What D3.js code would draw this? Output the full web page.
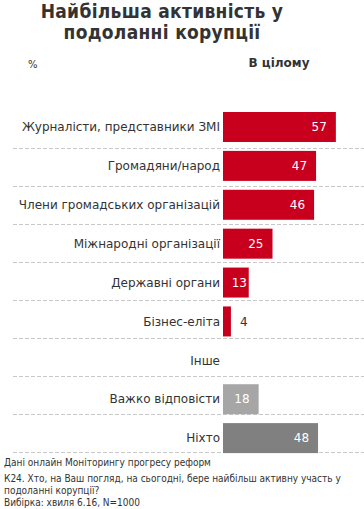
<!DOCTYPE html>
<html>
<head>
<meta charset="utf-8">
<script src="https://cdn.jsdelivr.net/npm/d3@7"></script>
<style>
  html, body { margin: 0; padding: 0; background: #fff; }
  svg { display: block; }
</style>
</head>
<body>
<div id="chart"></div>
<script>
const categories = [
    "Журналісти, представники ЗМІ", "Громадяни/народ", "Члени громадських організацій",
    "Міжнародні організації", "Державні органи", "Бізнес-еліта",
    "Інше", "Важко відповісти", "Ніхто",
];
const values = [57, 47, 46, 25, 13, 4, null, 18, 48];
const barColors = ["#c8001e", "#c8001e", "#c8001e", "#c8001e", "#c8001e", "#c8001e",
    "#c8001e", "#a6a6a6", "#808080"];
const titleLines = ["Найбільша активність у", "подоланні корупції"];
const seriesName = "В цілому";
const footnotes = [
    "Дані онлайн Моніторингу прогресу реформ",
    "К24. Хто, на Ваш погляд, на сьогодні, бере найбільш активну участь у",
    "подоланні корупції?",
    "Вибірка: хвиля 6.16, N=1000",
];

const width = 364;
const height = 509;
const textColor = "#333333";

const svg = d3.select("#chart")
    .append("svg")
    .attr("width", width)
    .attr("height", height);

// title
svg.selectAll(".title")
    .data(titleLines)
    .enter()
    .append("text")
    .attr("class", "title")
    .attr("x", 162)
    .attr("y", (d, i) => 18 + i * 21)
    .attr("text-anchor", "middle")
    .attr("fill", textColor)
    .style("font-family", "'DejaVu Sans Condensed', 'DejaVu Sans', sans-serif")
    .style("font-weight", "bold")
    .style("font-size", "19px")
    .style("letter-spacing", "0.3px")
    .text(d => d);

svg.append("text")
    .attr("x", 28)
    .attr("y", 68)
    .attr("fill", textColor)
    .style("font-family", "'DejaVu Sans', sans-serif")
    .style("font-size", "10px")
    .text("%");

svg.append("text")
    .attr("x", 279)
    .attr("y", 67)
    .attr("text-anchor", "middle")
    .attr("fill", textColor)
    .style("font-family", "'DejaVu Sans', sans-serif")
    .style("font-weight", "bold")
    .style("font-size", "12px")
    .text(seriesName);

// scales
const y = d3.scaleBand()
    .domain(categories)
    .range([108, 458]);

const gridY = d3.scaleBand()
    .domain(categories)
    .range([110, 452]);

const x = d3.scaleLinear()
    .domain([0, 100])
    .range([223, 421]);

// dashed separators
svg.selectAll(".grid")
    .data(categories)
    .enter()
    .append("line")
    .attr("x1", 13)
    .attr("x2", width)
    .attr("y1", d => gridY(d) + gridY.step() + 0.5)
    .attr("y2", d => gridY(d) + gridY.step() + 0.5)
    .attr("stroke", "#c8c8c8")
    .attr("stroke-width", 1)
    .attr("stroke-dasharray", "4,2");

// category labels
svg.selectAll(".cat")
    .data(categories)
    .enter()
    .append("text")
    .attr("x", 220)
    .attr("y", d => y(d) + 19)
    .attr("dy", "0.35em")
    .attr("text-anchor", "end")
    .attr("fill", textColor)
    .style("font-family", "'DejaVu Sans', sans-serif")
    .style("font-size", "12px")
    .text(d => d);

const rows = categories.map((c, i) => ({ cat: c, value: values[i], color: barColors[i] }))
    .filter(d => d.value !== null);

// bars
svg.selectAll(".bar")
    .data(rows)
    .enter()
    .append("rect")
    .attr("x", x(0))
    .attr("y", d => y(d.cat) + 4)
    .attr("width", d => x(d.value) - x(0))
    .attr("height", 30)
    .attr("fill", d => d.color);

// value labels
svg.selectAll(".val")
    .data(rows)
    .enter()
    .append("text")
    .attr("x", d => d.value < 8 ? x(d.value) + 9 : Math.max(x(d.value) - 9, x(0) + 24))
    .attr("y", d => y(d.cat) + 19)
    .attr("dy", "0.35em")
    .attr("text-anchor", d => d.value < 8 ? "start" : "end")
    .attr("fill", d => d.value < 8 ? textColor : "#ffffff")
    .style("font-family", "'DejaVu Sans', sans-serif")
    .style("font-size", "12px")
    .text(d => d.value);

// footnotes
svg.selectAll(".foot")
    .data(footnotes)
    .enter()
    .append("text")
    .attr("x", 4)
    .attr("y", (d, i) => [466, 482, 494, 506][i])
    .attr("fill", textColor)
    .style("font-family", "'DejaVu Sans Condensed', 'DejaVu Sans', sans-serif")
    .style("font-size", "10px")
    .text(d => d);
</script>
</body>
</html>
